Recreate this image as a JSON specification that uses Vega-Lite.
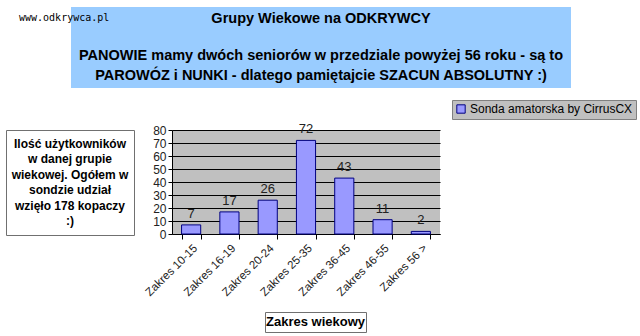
{
  "$schema": "https://vega.github.io/schema/vega-lite/v6.json",
  "padding": {"left": 5, "top": 7, "right": 0, "bottom": 0},
  "config": {
    "view": {"stroke": null},
    "font": "Liberation Sans",
    "text": {"font": "Liberation Sans"}
  },
  "spacing": 12,
  "vconcat": [
    {
      "spacing": 0,
      "hconcat": [
        {
          "width": 13,
          "height": 104,
          "view": {"fill": "#FFFFFF", "stroke": null},
          "data": {"values": []},
          "mark": "text"
        },
        {
          "width": 500,
          "height": 81,
          "view": {"fill": "#99CCFF", "stroke": null},
          "title": {
            "text": "www.odkrywca.pl",
            "anchor": "start",
            "orient": "top",
            "dx": -52,
            "offset": -16,
            "font": "DejaVu Sans Mono",
            "fontSize": 10,
            "fontWeight": "normal",
            "color": "#000000"
          },
          "layer": [
            {
              "data": {"values": [{"t": "Grupy Wiekowe na ODKRYWCY"}]},
              "mark": {
                "type": "text",
                "dy": -28.5,
                "fontSize": 14.5,
                "fontWeight": "bold",
                "align": "center",
                "baseline": "middle",
                "color": "#000000"
              },
              "encoding": {"text": {"field": "t"}}
            },
            {
              "data": {"values": [
                {"t": "PANOWIE mamy dwóch seniorów w przedziale powyżej 56 roku - są to\nPAROWÓZ i NUNKI - dlatego pamiętajcie SZACUN ABSOLUTNY :)"}
              ]},
              "mark": {
                "type": "text",
                "lineBreak": "\n",
                "lineHeight": 20,
                "dy": 8.5,
                "fontSize": 14.5,
                "fontWeight": "bold",
                "align": "center",
                "baseline": "middle",
                "color": "#000000"
              },
              "encoding": {"text": {"field": "t"}}
            }
          ]
        }
      ]
    },
    {
      "spacing": 8,
      "hconcat": [
        {
          "width": 128,
          "height": 105,
          "view": {"fill": "#FFFFFF", "stroke": "#707070", "strokeWidth": 1},
          "data": {"values": [
            {"t": "Ilość użytkowników\nw danej grupie\nwiekowej. Ogółem w\nsondzie udział\nwzięło 178 kopaczy\n:)"}
          ]},
          "mark": {
            "type": "text",
            "lineBreak": "\n",
            "lineHeight": 15.4,
            "dy": -38.5,
            "fontSize": 12,
            "fontWeight": "bold",
            "align": "center",
            "baseline": "middle",
            "color": "#000000"
          },
          "encoding": {"text": {"field": "t"}}
        },
        {
          "width": 268,
          "height": 104,
          "view": {"fill": "#C0C0C0", "stroke": null},
          "data": {"values": [
            {"zakres": "Zakres 10-15", "n": 7},
            {"zakres": "Zakres 16-19", "n": 17},
            {"zakres": "Zakres 20-24", "n": 26},
            {"zakres": "Zakres 25-35", "n": 72},
            {"zakres": "Zakres 36-45", "n": 43},
            {"zakres": "Zakres 46-55", "n": 11},
            {"zakres": "Zakres 56 >", "n": 2}
          ]},
          "encoding": {
            "x": {
              "field": "zakres",
              "type": "nominal",
              "sort": null,
              "scale": {"paddingInner": 0.5, "paddingOuter": 0.25},
              "axis": {
                "title": null,
                "labelAngle": -45,
                "labelFontSize": 11.5,
                "labelColor": "#222222",
                "labelPadding": 3,
                "tickBand": "extent",
                "tickColor": "#000000",
                "tickSize": 5,
                "domainColor": "#000000",
                "grid": false
              }
            },
            "y": {
              "field": "n",
              "type": "quantitative",
              "scale": {"domain": [0, 80], "nice": false},
              "axis": {
                "title": null,
                "values": [0, 10, 20, 30, 40, 50, 60, 70, 80],
                "labelFontSize": 12,
                "labelColor": "#222222",
                "labelPadding": 2,
                "tickColor": "#000000",
                "tickSize": 4,
                "domainColor": "#000000",
                "grid": true,
                "gridColor": "#000000",
                "gridOpacity": 1,
                "gridWidth": 1
              }
            }
          },
          "layer": [
            {
              "mark": {"type": "bar", "stroke": "#000080", "strokeWidth": 1},
              "encoding": {
                "color": {
                  "datum": "Sonda amatorska by CirrusCX",
                  "type": "nominal",
                  "scale": {"range": ["#9999FF"]},
                  "legend": {
                    "title": null,
                    "orient": "none",
                    "legendX": 446,
                    "legendY": 93,
                    "fillColor": "#C0C0C0",
                    "strokeColor": "#808080",
                    "padding": 3,
                    "symbolType": "square",
                    "symbolSize": 70,
                    "symbolStrokeColor": "#000080",
                    "symbolStrokeWidth": 1,
                    "symbolOpacity": 1,
                    "labelFontSize": 12,
                    "labelColor": "#000000",
                    "labelOffset": 3,
                    "labelLimit": 400
                  }
                }
              }
            },
            {
              "mark": {"type": "text", "baseline": "bottom", "dy": -4, "fontSize": 13, "color": "#222222"},
              "encoding": {"text": {"field": "n", "type": "quantitative"}}
            }
          ]
        }
      ]
    },
    {
      "spacing": 0,
      "hconcat": [
        {
          "width": 258,
          "height": 20,
          "view": {"fill": "#FFFFFF", "stroke": null},
          "data": {"values": []},
          "mark": "text"
        },
        {
          "width": 101,
          "height": 20,
          "view": {"fill": "#FFFFFF", "stroke": "#707070", "strokeWidth": 1},
          "data": {"values": [{"t": "Zakres wiekowy"}]},
          "mark": {
            "type": "text",
            "fontSize": 13,
            "fontWeight": "bold",
            "align": "center",
            "baseline": "middle",
            "color": "#000000"
          },
          "encoding": {"text": {"field": "t"}}
        }
      ]
    }
  ]
}
